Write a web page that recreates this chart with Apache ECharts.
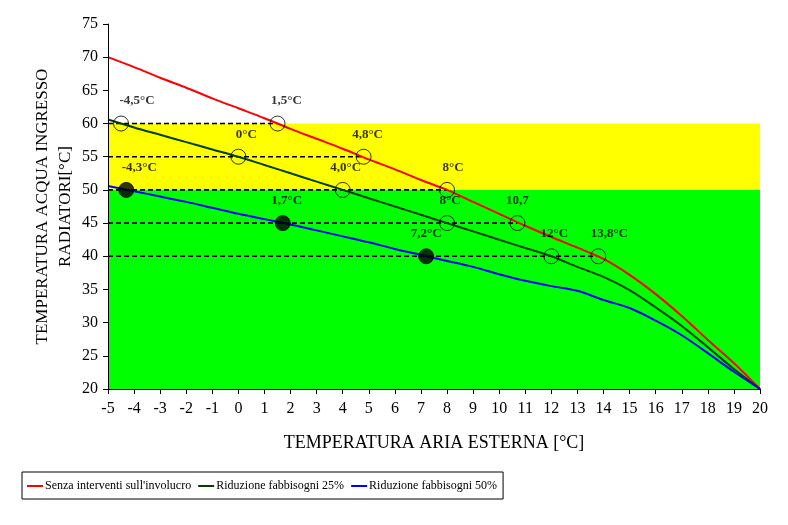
<!DOCTYPE html>
<html>
<head>
<meta charset="utf-8">
<script src="https://cdn.jsdelivr.net/npm/echarts@6/dist/echarts.min.js"></script>
<style>
html,body{margin:0;padding:0;background:#fff;}
#chart{width:788px;height:525px;}
</style>
</head>
<body>
<div id="chart"></div>
<script>
// ---- data ----
const xValues = [-5,-4,-3,-2,-1,0,1,2,3,4,5,6,7,8,9,10,11,12,13,14,15,16,17,18,19,20];
const redValues   = [70,68.5,66.9,65.4,63.8,62.3,60.8,59.2,57.7,56.2,54.6,53.1,51.5,50,48.2,46.4,44.6,42.9,41.3,39.6,37.2,34.3,31.0,27.4,23.9,20];
const greenValues = [60.6,59.4,58.3,57.2,56.1,55,53.75,52.5,51.25,50,48.75,47.5,46.25,45,43.75,42.5,41.25,40,38.4,36.9,34.9,32.3,29.5,26.3,23.0,20];
const blueValues  = [50.6,49.8,49.0,48.2,47.3,46.4,45.6,44.8,43.9,43.0,42.1,41.1,40.2,39.3,38.4,37.3,36.3,35.5,34.8,33.4,32.2,30.3,28.1,25.4,22.6,20];
const seriesNames = ["Senza interventi sull'involucro","Riduzione fabbisogni 25%","Riduzione fabbisogni 50%"];

const openX = [-4.5,1.5,0,4.8,4.0,8,8,10.7,12,13.8];
const openY = [60,60,55,55,50,50,45,45,40,40];
const openLabels = ['-4,5°C','1,5°C','0°C','4,8°C','4,0°C','8°C','8°C','10,7','12°C','13,8°C'];
const filledX = [-4.3,1.7,7.2];
const filledY = [50,45,40];
const filledLabels = ['-4,3°C','1,7°C','7,2°C'];

const refLevels = [60,55,50,45,40];
const refEndX = [1.5,4.8,8,10.7,13.8];

const bandYellow = [50,60];
const bandGreen = [20,50];
const yTicks = {min:20,max:75,step:5};
const xTicks = {min:-5,max:20,step:1};

// ---- styles (separate from data) ----
const openLabelOffsets = [[16,0],[9,0],[8,0],[4,0],[3,0],[6,0],[3,0],[0,0],[3,0],[11,0]];
const filledLabelOffsets = [[13,0],[4,0],[0,0]];

const pair = (xs, ys) => xs.map((x,i)=>[x, ys[i]]);
const FONT = '"Liberation Serif","Times New Roman",serif';

const dashedSeries = refLevels.map((lv,i)=>({
  type:'line', silent:true, symbol:'none', z:3,
  data:[[xTicks.min,lv],[refEndX[i],lv]],
  lineStyle:{color:'#000',width:1.6,type:[5,3]}
}));

const labelStyle = {color:'#000',fontSize:13,fontWeight:'bold',fontFamily:FONT};

const chart = echarts.init(document.getElementById('chart'));
chart.setOption({
  animation:false,
  backgroundColor:'#fff',
  textStyle:{fontFamily:FONT},
  grid:{left:108,right:28,top:24,bottom:136},
  xAxis:{
    type:'value', min:xTicks.min, max:xTicks.max, interval:xTicks.step, z:10,
    axisLine:{onZero:false,lineStyle:{color:'#000',width:1}},
    axisTick:{lineStyle:{color:'#000'},length:5},
    splitLine:{show:false},
    axisLabel:{color:'#000',fontSize:16,fontFamily:FONT,margin:12},
    name:'TEMPERATURA ARIA ESTERNA [°C]', nameLocation:'middle', nameGap:45,
    nameTextStyle:{color:'#000',fontSize:18,fontFamily:FONT}
  },
  yAxis:{
    type:'value', min:yTicks.min, max:yTicks.max, interval:yTicks.step, z:10,
    axisLine:{show:true,onZero:false,lineStyle:{color:'#000',width:1}},
    axisTick:{show:true,lineStyle:{color:'#000'},length:5},
    splitLine:{show:false},
    axisLabel:{color:'#000',fontSize:16,fontFamily:FONT,margin:10},
    name:'TEMPERATURA ACQUA INGRESSO\nRADIATORI[°C]', nameLocation:'middle', nameGap:31,
    nameMoveOverlap:false,
    nameTextStyle:{color:'#000',fontSize:17,fontFamily:FONT,lineHeight:23}
  },
  legend:{
    data:seriesNames, left:22, top:472, orient:'horizontal',
    padding:[8,6,7,5], itemGap:7, itemWidth:16, itemHeight:2, icon:'rect',
    borderColor:'#000', borderWidth:1,
    textStyle:{color:'#000',fontSize:12,fontFamily:FONT,padding:[0,0,0,-3]}
  },
  series:[
    {type:'line', name:'bands', silent:true, symbol:'none', z:1, data:[],
     markArea:{silent:true, data:[
       [{yAxis:bandYellow[0],itemStyle:{color:'#FFFF00'}},{yAxis:bandYellow[1]}],
       [{yAxis:bandGreen[0],itemStyle:{color:'#00FF00'}},{yAxis:bandGreen[1]}]
     ]}},
    ...dashedSeries,
    {type:'line', name:seriesNames[0], data:pair(xValues,redValues), smooth:0.3, symbol:'none', z:4,
     itemStyle:{color:'#FF0000'}, lineStyle:{color:'#FF0000',width:2}},
    {type:'line', name:seriesNames[1], data:pair(xValues,greenValues), smooth:0.3, symbol:'none', z:4,
     itemStyle:{color:'#004000'}, lineStyle:{color:'#004000',width:2}},
    {type:'line', name:seriesNames[2], data:pair(xValues,blueValues), smooth:0.3, symbol:'none', z:4,
     itemStyle:{color:'#0000FF'}, lineStyle:{color:'#0000FF',width:2}},
    {type:'scatter', name:'open', z:6, symbol:'circle', symbolSize:15,
     itemStyle:{color:'rgba(0,0,0,0)',borderColor:'#000',borderWidth:1},
     data:pair(openX,openY).map((p,i)=>({value:p,
       label:Object.assign({show:true,position:'top',distance:8,offset:openLabelOffsets[i],
         formatter:openLabels[i]},labelStyle)}))},
    {type:'scatter', name:'filled', z:6, symbol:'circle', symbolSize:15,
     itemStyle:{color:'#000',borderColor:'#000',borderWidth:1},
     data:pair(filledX,filledY).map((p,i)=>({value:p,
       label:Object.assign({show:true,position:'top',distance:8,offset:filledLabelOffsets[i],
         formatter:filledLabels[i]},labelStyle)}))}
  ]
});
</script>
</body>
</html>
